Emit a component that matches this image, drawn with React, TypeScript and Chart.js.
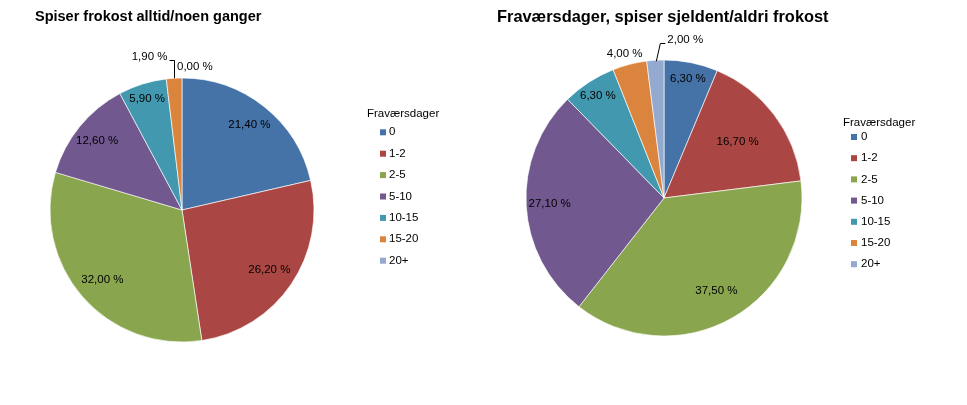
import { useEffect, useRef } from "react";
import { Chart, registerables } from "chart.js";

Chart.register(...registerables);

// ---------- data ----------
const categories = ["0", "1-2", "2-5", "5-10", "10-15", "15-20", "20+"];
const legendTitle = "Fraværsdager";
const alwaysTitle = "Spiser frokost alltid/noen ganger";
const alwaysValues = [21.4, 26.2, 32.0, 12.6, 5.9, 1.9, 0.0];
const rarelyTitle = "Fraværsdager, spiser sjeldent/aldri frokost";
const rarelyValues = [6.3, 16.7, 37.5, 27.1, 6.3, 4.0, 2.0];

// ---------- style ----------
const colors = ["#4572A7", "#AA4643", "#89A54E", "#71588F", "#4198AF", "#DB843D", "#93A9CF"];
const FONT = "'Liberation Sans', Arial, sans-serif";

const fmt = (v: number) => v.toFixed(2).replace(".", ",") + " %";

type Panel = {
  title: string;
  values: number[];
  left: number;
  width: number;
  padding: { left: number; right: number; top: number; bottom: number };
  radius: number;
  titleX: number;
  titleY: number;
  titleSize: number;
  legX: number;
  legY: number;
  boxX: number;
  itemY: number;
  step: number;
  textX: number;
  labelPos: (number | string)[];
};

const panels: Panel[] = [
  {
    title: alwaysTitle,
    values: alwaysValues,
    left: 0,
    width: 483,
    padding: { left: 40, right: 159, top: 60, bottom: 45 },
    radius: 132,
    titleX: 35,
    titleY: 21,
    titleSize: 14.5,
    legX: 367,
    legY: 114,
    boxX: 380,
    itemY: 132.3,
    step: 21.4,
    textX: 389,
    labelPos: [0.82, 0.8, 0.8, 0.83, 0.88, "leaderL", "topR"],
  },
  {
    title: rarelyTitle,
    values: rarelyValues,
    left: 483,
    width: 484,
    padding: { left: 40, right: 162, top: 60, bottom: 69 },
    radius: 138,
    titleX: 14,
    titleY: 22,
    titleSize: 16.4,
    legX: 360,
    legY: 123,
    boxX: 368,
    itemY: 137,
    step: 21.2,
    textX: 378,
    labelPos: [0.88, 0.67, 0.77, 0.83, 0.88, "out", "leaderR"],
  },
];

function PieChart({ p }: { p: Panel }) {
  const ref = useRef<HTMLCanvasElement | null>(null);
  useEffect(() => {
    const canvas = ref.current;
    if (!canvas) return;
    const decor = {
      id: "decor",
      afterDraw(chart: any) {
        const ctx = chart.ctx as CanvasRenderingContext2D;
        ctx.save();
        // title
        ctx.fillStyle = "#000";
        ctx.font = `bold ${p.titleSize}px ${FONT}`;
        ctx.textAlign = "left";
        ctx.textBaseline = "alphabetic";
        ctx.fillText(p.title, p.titleX, p.titleY);
        // legend
        ctx.font = `11.5px ${FONT}`;
        ctx.textBaseline = "middle";
        ctx.fillText(legendTitle, p.legX, p.legY);
        categories.forEach((c, i) => {
          const y = p.itemY + i * p.step;
          ctx.fillStyle = colors[i];
          ctx.fillRect(p.boxX, y - 3, 6, 6);
          ctx.fillStyle = "#000";
          ctx.fillText(c, p.textX, y);
        });
        // data labels
        const meta = chart.getDatasetMeta(0);
        meta.data.forEach((arc: any, i: number) => {
          const { x, y, startAngle, endAngle, outerRadius } = arc.getProps(
            ["x", "y", "startAngle", "endAngle", "outerRadius"],
            true
          );
          const mid = (startAngle + endAngle) / 2;
          const text = fmt(p.values[i]);
          const pos = p.labelPos[i];
          const ex = x + outerRadius * Math.cos(mid);
          const ey = y + outerRadius * Math.sin(mid);
          ctx.fillStyle = "#000";
          ctx.strokeStyle = "#000";
          ctx.lineWidth = 1;
          if (typeof pos === "number") {
            ctx.textAlign = "center";
            ctx.fillText(text, x + pos * outerRadius * Math.cos(mid), y + pos * outerRadius * Math.sin(mid));
          } else if (pos === "out") {
            ctx.textAlign = "center";
            ctx.fillText(text, ex - 5, ey - 11);
          } else if (pos === "topR") {
            ctx.textAlign = "left";
            ctx.fillText(text, ex - 5, ey - 11);
          } else if (pos === "leaderL") {
            const lx = Math.round(ex) + 0.5;
            const ly = Math.round(ey - 18) + 0.5;
            ctx.beginPath();
            ctx.moveTo(lx, ey);
            ctx.lineTo(lx, ly);
            ctx.lineTo(lx - 5, ly);
            ctx.stroke();
            ctx.textAlign = "right";
            ctx.fillText(text, lx - 7, ly - 4);
          } else if (pos === "leaderR") {
            const ly = Math.round(ey - 17) + 0.5;
            ctx.beginPath();
            ctx.moveTo(ex + 1, ey + 1);
            ctx.lineTo(ex + 5, ly);
            ctx.lineTo(ex + 10, ly);
            ctx.stroke();
            ctx.textAlign = "left";
            ctx.fillText(text, ex + 12, ly - 4);
          }
        });
        ctx.restore();
      },
    };
    const chart = new Chart(canvas, {
      type: "pie",
      data: {
        labels: categories,
        datasets: [
          {
            data: p.values,
            backgroundColor: colors,
            borderColor: "rgba(255,255,255,0.8)",
            borderWidth: 0.8,
          },
        ],
      },
      options: {
        responsive: false,
        animation: false,
        radius: p.radius,
        layout: { padding: p.padding },
        plugins: {
          legend: { display: false },
          title: { display: false },
          tooltip: { enabled: false },
        },
      } as any,
      plugins: [decor],
    });
    return () => chart.destroy();
  }, [p]);
  return (
    <canvas
      ref={ref}
      width={p.width}
      height={405}
      style={{ position: "absolute", left: p.left, top: 0, width: p.width, height: 405 }}
    />
  );
}

export default function App() {
  return (
    <div style={{ position: "absolute", left: 0, top: 0, width: 967, height: 405, background: "#fff" }}>
      {panels.map((p, i) => (
        <PieChart key={i} p={p} />
      ))}
    </div>
  );
}
